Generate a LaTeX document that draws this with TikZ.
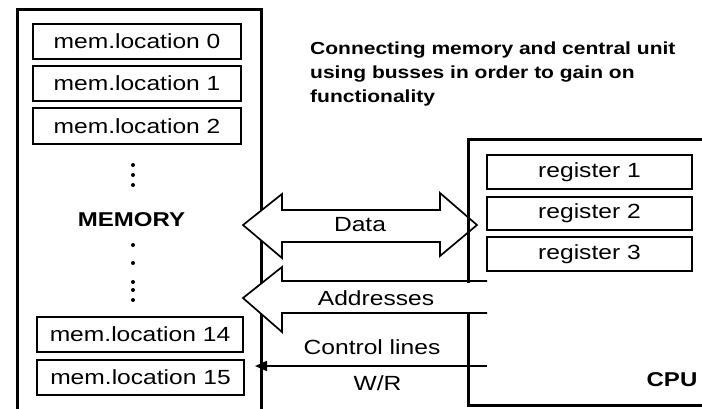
\documentclass[tikz,border=0pt]{standalone}
\usepackage{fontspec}
\setmainfont{Liberation Sans}[FakeStretch=1.2]
\usetikzlibrary{arrows.meta}
\begin{document}
\begin{tikzpicture}[x=1pt,y=-1pt,
  frame/.style={line width=3pt, line cap=rect},
  cell/.style={draw, line width=1.8pt, inner sep=0pt, minimum height=35pt,
    font=\fontsize{20.5}{24}\selectfont},
  memcell/.style={cell, minimum width=208pt},
  regcell/.style={cell, minimum width=205pt, minimum height=34pt},
  bus/.style={draw, fill=white, line width=1.7pt, line join=miter},
  lbl/.style={inner sep=0pt, font=\fontsize{20.5}{24}\selectfont},
  head/.style={inner sep=0pt, font=\fontsize{20}{24}\selectfont\bfseries},
  dot/.style={fill=black}]

\useasboundingbox (0,0) rectangle (702,408);
\clip (0,0) rectangle (702,408);
\fill[white] (0,0) rectangle (702,408);

% memory frame, open at the bottom
\draw[frame] (17,430) -- (17,9) -- (261,9) -- (261,430);
\coordinate (memR) at (255,366);

% memory cells
\node[memcell] (m0)  at (137,41.5)  {mem.location 0};
\node[memcell] (m1)  at (137,83.5)  {mem.location 1};
\node[memcell, minimum height=36pt] (m2) at (137,126) {mem.location 2};
\node[memcell, minimum width=206pt] (m14) at (140,334.5) {mem.location 14};
\node[memcell, minimum width=207pt] (m15) at (140.5,377.5) {mem.location 15};

% vertical ellipses
\foreach \y in {165,175,185,245,263,282,290,300}
  \fill[dot] (133,\y) circle (2);

\node[head] (mem) at (131.5,220) {MEMORY};

% title
\node[anchor=north west, align=left, inner sep=0pt,
  font=\fontsize{17.5}{24}\selectfont\bfseries] (title) at (310,42)
  {Connecting memory and central unit\\using busses in order to gain on\\functionality};

% data bus (two-way)
\draw[bus] (243,225) -- (282,194) -- (282,210) -- (440,210) -- (440,193)
  -- (477,225) -- (440,256) -- (440,242) -- (282,242) -- (282,258) -- cycle;
\node[lbl] (data) at (360,225) {Data};

% address bus (one-way, open towards the CPU)
\filldraw[bus] (487,281) -- (282,281) -- (282,267) -- (243,298)
  -- (282,332) -- (282,313) -- (487,313);
\node[lbl] (addr) at (376,298) {Addresses};

% CPU frame, broken where the address bus enters
\draw[frame] (702,139) -- (468,139) -- (468,281);
\draw[frame] (468,313) -- (468,405) -- (702,405);
\node[head] (cpu) at (672,379.5) {CPU};

% registers
\node[regcell] (r1) at (589.5,172)   {register 1};
\node[regcell, minimum height=33pt] (r2) at (589.5,213.5) {register 2};
\node[regcell] (r3) at (589.5,254)   {register 3};

% control line
\coordinate (ctl) at (487,366);
\draw[line width=1.7pt, -{Triangle[length=12pt,width=10pt]}] (ctl) -- (memR);
\node[lbl] (ctltext) at (372,347) {Control lines};
\node[lbl] (wr) at (377.5,383) {W/R};
\end{tikzpicture}
\end{document}
